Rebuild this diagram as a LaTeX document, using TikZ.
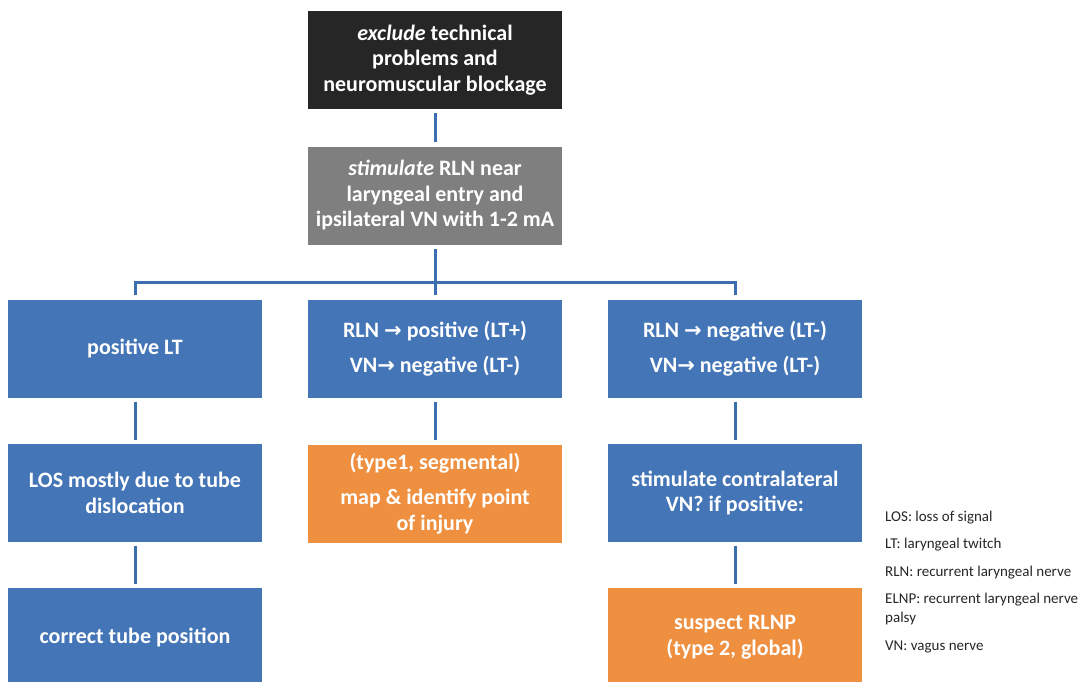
\documentclass[tikz,border=0pt]{standalone}
\usepackage{fontspec}
\setmainfont{Carlito}
\newfontfamily\arrowfont{DejaVu Sans}
\usepackage{xcolor}
\usetikzlibrary{positioning}
\definecolor{boxblue}{RGB}{68,117,183}
\definecolor{boxorange}{RGB}{239,143,64}
\definecolor{boxblack}{RGB}{38,38,38}
\definecolor{boxgrey}{RGB}{127,127,127}
\definecolor{linkblue}{RGB}{58,110,175}
\newcommand{\toarrow}{{\arrowfont\fontsize{21}{20}\selectfont →}}

\begin{document}
\begin{tikzpicture}[x=1pt,y=-1pt,
  box/.style={rectangle,minimum width=254pt,minimum height=98pt,inner sep=0pt,
    text=white,align=center,font=\fontsize{22}{25.5}\selectfont\bfseries},
  link/.style={draw=linkblue,line width=3pt,shorten <=4pt,shorten >=4pt},
  legend/.style={anchor=west,inner sep=0pt,align=left,text=black!85,
    font=\fontsize{15}{19}\selectfont}]
\useasboundingbox (0,0) rectangle (1081,682);
% top of the chart
\node[box,fill=boxblack] (excl) at (435,60) {\textit{exclude} technical\\problems and\\neuromuscular blockage};
\node[box,fill=boxgrey] (stim) at (435,195.5) {\textit{stimulate} RLN near\\laryngeal entry and\\ipsilateral VN with 1-2 mA};
\coordinate (bus) at (435,282);
% first answer row
\node[box,fill=boxblue] (posLT) at (135,348.5) {positive LT};
\node[box,fill=boxblue] (rlnPos) at (435,348.5) {RLN \toarrow{} positive (LT+)\\[10pt]VN\toarrow{} negative (LT-)};
\node[box,fill=boxblue] (rlnNeg) at (735,348.5) {RLN \toarrow{} negative (LT-)\\[10pt]VN\toarrow{} negative (LT-)};
% second row
\node[box,fill=boxblue] (tubeLos) at (135,493) {LOS mostly due to tube\\dislocation};
\node[box,fill=boxorange] (mapInj) at (435,493.5) {(type1, segmental)\\[10pt]map \& identify point\\of injury};
\node[box,fill=boxblue] (contra) at (735,493) {stimulate contralateral\\VN? if positive:};
% third row
\node[box,fill=boxblue] (tubePos) at (135,637) {correct tube position};
\node[box,fill=boxorange] (rlnp) at (735,637) {suspect RLNP\\(type 2, global)};
% links
\draw[link] (excl) -- (stim);
\draw[link,shorten >=0pt] (stim) -- (bus);
\draw[link,shorten >=0pt] (posLT.north) |- (bus);
\draw[link,shorten >=0pt] (rlnNeg.north) |- (bus);
\draw[link,shorten >=0pt] (rlnPos.north) -- (bus);
\draw[link] (posLT) -- (tubeLos);
\draw[link] (rlnPos) -- (mapInj);
\draw[link] (rlnNeg) -- (contra);
\draw[link] (tubeLos) -- (tubePos);
\draw[link] (contra) -- (rlnp);
% legend
\node[legend] (lgLos) at (885,518) {LOS: loss of signal};
\node[legend] (lgLt) at (885,545) {LT: laryngeal twitch};
\node[legend] (lgRln) at (885,573) {RLN: recurrent laryngeal nerve};
\node[legend] (lgElnp) at (885,608.5) {ELNP: recurrent laryngeal nerve\\palsy};
\node[legend] (lgVn) at (885,647) {VN: vagus nerve};
\end{tikzpicture}
\end{document}
